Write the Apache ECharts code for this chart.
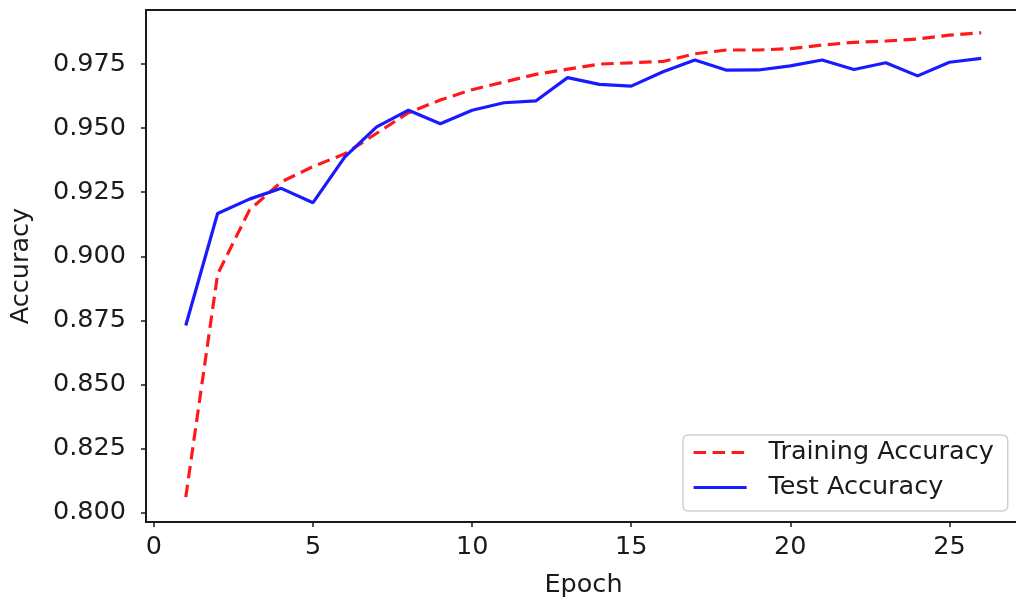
<!DOCTYPE html>
<html>
<head>
<meta charset="utf-8">
<script src="https://cdn.jsdelivr.net/npm/echarts@6/dist/echarts.min.js"></script>
<style>
  html, body { margin: 0; padding: 0; background: #fff; }
  #chart { width: 1016px; height: 598px; }
</style>
</head>
<body>
<div id="chart"></div>
<script>
// epochs and accuracy values
const epochs = [1, 2, 3, 4, 5, 6, 7, 8, 9, 10, 11, 12, 13, 14, 15, 16, 17, 18, 19, 20, 21, 22, 23, 24, 25, 26];
const trainAcc = [0.806, 0.893, 0.918, 0.929, 0.935, 0.940, 0.948, 0.956, 0.961, 0.965, 0.968, 0.971, 0.973, 0.975, 0.9755, 0.976, 0.979, 0.9805, 0.9805, 0.981, 0.9824, 0.9835, 0.984, 0.9848, 0.9863, 0.9872];
const testAcc = [0.873, 0.9167, 0.9223, 0.9265, 0.9209, 0.9388, 0.9505, 0.957, 0.9517, 0.957, 0.9599, 0.9606, 0.9697, 0.9671, 0.9664, 0.972, 0.9766, 0.9726, 0.9727, 0.9743, 0.9766, 0.9729, 0.9755, 0.9704, 0.9757, 0.9772];
const xTicks = [0, 5, 10, 15, 20, 25];
const yTicks = [0.800, 0.825, 0.850, 0.875, 0.900, 0.925, 0.950, 0.975];

const font = 'DejaVu Sans';
const fs = 25.5;
const ink = '#1a1a1a';

const chart = echarts.init(document.getElementById('chart'), null, { renderer: 'canvas' });

const pairs = (ys) => epochs.map((x, i) => [x, ys[i]]);

const option = {
  animation: false,
  grid: {
    left: 146,
    top: 10,
    width: 875,
    height: 512,
    show: true,
    borderColor: ink,
    borderWidth: 1.8,
    outerBoundsMode: 'none'
  },
  legend: {
    left: 683,
    top: 435,
    orient: 'vertical',
    itemWidth: 53,
    itemHeight: 14,
    itemGap: 8,
    padding: [4, 14, 10, 9],
    backgroundColor: 'rgba(255,255,255,0.8)',
    borderColor: '#d0d0d0',
    borderWidth: 1.5,
    borderRadius: 5,
    itemStyle: { opacity: 0 },
    lineStyle: { width: 3.2 },
    textStyle: {
      fontFamily: font,
      fontSize: fs,
      color: ink,
      lineHeight: 27,
      padding: [0, 0, 0, 17]
    },
    data: ['Training Accuracy', 'Test Accuracy']
  },
  xAxis: {
    type: 'value',
    min: -0.25,
    max: 27.25,
    name: 'Epoch',
    nameLocation: 'middle',
    nameGap: 50,
    nameTextStyle: { fontFamily: font, fontSize: fs, color: ink },
    axisLine: { onZero: false, lineStyle: { color: ink, width: 1.8 } },
    axisTick: { customValues: xTicks, length: 5, lineStyle: { color: ink, width: 1.5 } },
    axisLabel: {
      customValues: xTicks,
      fontFamily: font,
      fontSize: fs,
      color: ink,
      margin: 12
    },
    splitLine: { show: false }
  },
  yAxis: {
    type: 'value',
    min: 0.7963,
    max: 0.9961,
    name: 'Accuracy',
    nameLocation: 'middle',
    nameGap: 112,
    nameTextStyle: { fontFamily: font, fontSize: fs, color: ink },
    axisLine: { show: true, onZero: false, lineStyle: { color: ink, width: 1.8 } },
    axisTick: { show: true, customValues: yTicks, length: 5, lineStyle: { color: ink, width: 1.5 } },
    axisLabel: {
      customValues: yTicks,
      fontFamily: font,
      fontSize: fs,
      color: ink,
      margin: 20,
      formatter: (v) => v.toFixed(3)
    },
    splitLine: { show: false }
  },
  series: [
    {
      name: 'Training Accuracy',
      type: 'line',
      data: pairs(trainAcc),
      symbol: 'none',
      color: '#ff1a1a',
      lineStyle: { color: '#ff1a1a', width: 3.2, type: [12.5, 6.5], cap: 'butt' },
      z: 2
    },
    {
      name: 'Test Accuracy',
      type: 'line',
      data: pairs(testAcc),
      symbol: 'none',
      color: '#1a1aff',
      lineStyle: { color: '#1a1aff', width: 3.2 },
      z: 3
    }
  ]
};

chart.setOption(option);
</script>
</body>
</html>
